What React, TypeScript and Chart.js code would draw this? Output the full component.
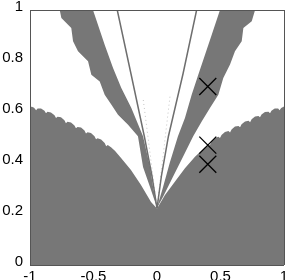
import { useEffect, useRef } from 'react';
import { Chart, registerables } from 'chart.js';

Chart.register(...registerables);

type P = [number, number];

const xTickLabels = ['-1', '-0.5', '0', '0.5', '1'];
const yTickLabels = ['0', '0.2', '0.4', '0.6', '0.8', '1'];

// Upper edge of the lower gray region (scalloped towards the sides)
const bottomEdge: P[] = [
  [-1.0, 0.62], [-0.985, 0.621], [-0.968, 0.617], [-0.952, 0.607],
  [-0.94, 0.6135], [-0.913, 0.614], [-0.886, 0.605], [-0.874, 0.595],
  [-0.862, 0.6005], [-0.835, 0.5985], [-0.807, 0.587], [-0.795, 0.576],
  [-0.783, 0.5815], [-0.756, 0.579], [-0.729, 0.5675], [-0.717, 0.556],
  [-0.705, 0.5615], [-0.677, 0.559], [-0.65, 0.5475], [-0.638, 0.536],
  [-0.626, 0.5415], [-0.598, 0.539], [-0.571, 0.5275], [-0.559, 0.516],
  [-0.547, 0.521], [-0.52, 0.5175], [-0.492, 0.505], [-0.48, 0.493],
  [-0.468, 0.4975], [-0.44, 0.4925], [-0.412, 0.4785], [-0.4, 0.466],
  [-0.388, 0.471], [-0.362, 0.462], [-0.33, 0.447], [-0.283, 0.42],
  [-0.205, 0.373], [-0.126, 0.314], [-0.047, 0.247], [0.0, 0.222],
  [0.063, 0.275], [0.142, 0.327], [0.22, 0.379], [0.299, 0.425],
  [0.378, 0.462], [0.418, 0.472],
  [0.43, 0.4844], [0.457, 0.498], [0.484, 0.5026], [0.496, 0.498],
  [0.508, 0.5098], [0.535, 0.522], [0.563, 0.5252], [0.575, 0.52],
  [0.587, 0.5315], [0.614, 0.543], [0.642, 0.5455], [0.654, 0.54],
  [0.666, 0.5515], [0.693, 0.563], [0.721, 0.5655], [0.733, 0.56],
  [0.745, 0.5714], [0.772, 0.5825], [0.799, 0.5847], [0.811, 0.579],
  [0.823, 0.59], [0.85, 0.6], [0.878, 0.601], [0.89, 0.595],
  [0.901, 0.6053], [0.927, 0.614], [0.954, 0.6137], [0.965, 0.607],
  [0.978, 0.616], [1.0, 0.622],
];

// Left fan: outer (lower) edge and inner (upper) edge
const leftFanOuter: P[] = [
  [-0.766, 1.0], [-0.753, 0.969], [-0.675, 0.929], [-0.661, 0.877], [-0.622, 0.838],
  [-0.543, 0.799], [-0.517, 0.746], [-0.451, 0.72], [-0.412, 0.668], [-0.36, 0.629],
  [-0.307, 0.589], [-0.228, 0.55], [-0.15, 0.505], [-0.11, 0.384], [-0.055, 0.306],
  [0.0, 0.225],
];
const leftFanInner: P[] = [
  [-0.766, 1.0], [-0.504, 1.0], [-0.412, 0.864], [-0.346, 0.773], [-0.281, 0.694],
  [-0.202, 0.616], [-0.11, 0.505], [-0.055, 0.384], [-0.031, 0.306], [0.0, 0.225],
];

// Right fan: inner (upper) edge and outer (lower) edge
const rightFanInner: P[] = [
  [0.0, 0.225], [0.05, 0.31], [0.1, 0.4], [0.165, 0.505], [0.22, 0.576],
  [0.273, 0.668], [0.325, 0.746], [0.378, 0.825], [0.431, 0.903], [0.496, 1.0],
  [0.772, 1.0],
];
const rightFanOuter: P[] = [
  [0.0, 0.225], [0.05, 0.27], [0.12, 0.34], [0.2, 0.42], [0.285, 0.505],
  [0.352, 0.563], [0.417, 0.616], [0.483, 0.668], [0.522, 0.733], [0.575, 0.786],
  [0.614, 0.838], [0.667, 0.877], [0.68, 0.929], [0.746, 0.956], [0.772, 1.0],
];

// Thin curves from the vertex
const leftThin: P[] = [[-0.313, 1.0], [-0.205, 0.75], [-0.1, 0.505], [-0.04, 0.35], [0.0, 0.222]];
const rightThin: P[] = [[0.312, 1.0], [0.205, 0.75], [0.09, 0.505], [0.035, 0.35], [0.0, 0.222]];
const leftDotted: P[] = [[-0.108, 0.647], [0.0, 0.222]];
const rightDotted: P[] = [[0.102, 0.66], [0.0, 0.222]];

// Cross markers
const markerX = [0.4, 0.4, 0.4];
const markerY = [0.7, 0.47, 0.395];

const GRAY = '#777777';
const FRAME = '#555555';
const FONT = "'Liberation Sans', Arial, sans-serif";

export default function App() {
  const ref = useRef<HTMLCanvasElement>(null);

  useEffect(() => {
    document.body.style.margin = '0';
    const canvas = ref.current;
    if (!canvas) return;
    const toXY = (pts: P[]) => pts.map(([x, y]) => ({ x, y }));
    const fillDs = {
      borderWidth: 0,
      borderColor: 'rgba(0,0,0,0)',
      backgroundColor: GRAY,
      pointRadius: 0,
      showLine: true,
      tension: 0,
      order: 3,
    };
    const lineDs = {
      showLine: true,
      pointRadius: 0,
      fill: false,
      tension: 0,
      order: 1,
    };
    const chart = new Chart(canvas, {
      type: 'scatter',
      data: {
        datasets: [
          {
            data: markerX.map((x, i) => ({ x, y: markerY[i] })),
            pointStyle: 'crossRot',
            pointRadius: 12,
            borderColor: '#000',
            backgroundColor: '#000',
            borderWidth: 1.3,
            showLine: false,
            order: 0,
          } as any,
          { ...lineDs, data: toXY(leftThin), borderColor: '#6e6e6e', borderWidth: 1.5 },
          { ...lineDs, data: toXY(rightThin), borderColor: '#6e6e6e', borderWidth: 1.5 },
          { ...lineDs, data: toXY(leftDotted), borderColor: '#c4c4c4', borderWidth: 1, borderDash: [1, 3] },
          { ...lineDs, data: toXY(rightDotted), borderColor: '#c4c4c4', borderWidth: 1, borderDash: [1, 3] },
          { ...fillDs, data: toXY(bottomEdge), fill: 'start' },
          { ...fillDs, data: toXY(leftFanOuter), fill: '+1' },
          { ...fillDs, data: toXY(leftFanInner), fill: false },
          { ...fillDs, data: toXY(rightFanOuter), fill: '+1' },
          { ...fillDs, data: toXY(rightFanInner), fill: false },
        ],
      },
      options: {
        responsive: false,
        animation: false,
        events: [],
        layout: { autoPadding: false, padding: { top: 10, right: 3, left: 0, bottom: 0 } },
        plugins: { legend: { display: false }, tooltip: { enabled: false } },
        scales: {
          x: {
            type: 'linear',
            min: -1,
            max: 1,
            ticks: {
              stepSize: 0.5,
              padding: 3,
              color: '#000',
              font: { family: FONT, size: 15 },
              maxRotation: 0,
              autoSkip: false,
              callback: (_v: any, i: number) => xTickLabels[i] ?? '',
            },
            grid: {
              drawTicks: false,
              z: 1,
              lineWidth: 1,
              color: (c: any) =>
                c.index === 0 || c.index === xTickLabels.length - 1 ? FRAME : 'rgba(0,0,0,0)',
            },
            border: { display: false },
            afterFit: (s: any) => {
              s.height = 15;
              s.paddingLeft = 0;
              s.paddingRight = 0;
            },
          },
          y: {
            type: 'linear',
            min: 0,
            max: 1,
            ticks: {
              stepSize: 0.2,
              padding: 7,
              labelOffset: -3,
              color: '#000',
              font: { family: FONT, size: 15 },
              autoSkip: false,
              callback: (_v: any, i: number) => yTickLabels[i] ?? '',
            },
            grid: {
              drawTicks: false,
              z: 1,
              lineWidth: 1,
              color: (c: any) =>
                c.index === 0 || c.index === yTickLabels.length - 1 ? FRAME : 'rgba(0,0,0,0)',
            },
            border: { display: false },
            afterFit: (s: any) => {
              s.width = 30;
              s.paddingTop = 0;
              s.paddingBottom = 0;
            },
          },
        },
      } as any,
    });
    return () => chart.destroy();
  }, []);

  return (
    <div style={{ width: 287, height: 280 }}>
      <canvas ref={ref} width={287} height={280} style={{ display: 'block' }} />
    </div>
  );
}
